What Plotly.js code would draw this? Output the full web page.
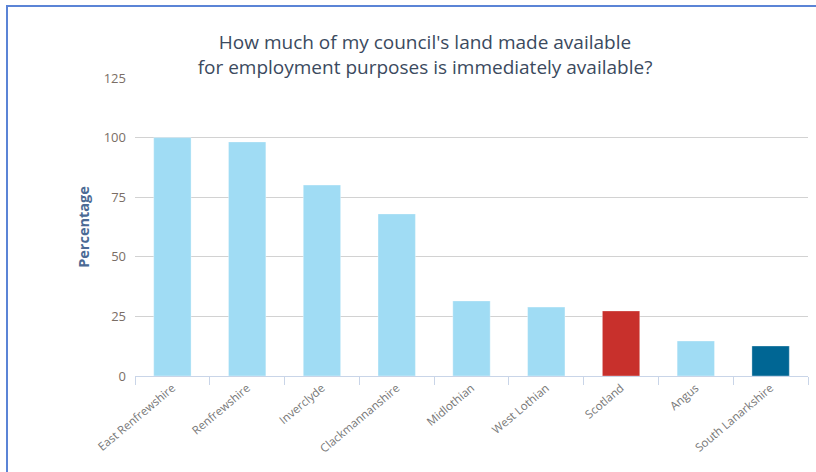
<!DOCTYPE html>
<html>
<head>
<meta charset="utf-8">
<script src="https://cdn.plot.ly/plotly-3.0.1.min.js"></script>
<style>
html,body{margin:0;padding:0;background:#fff;width:816px;height:472px;overflow:hidden;}
#chart{position:absolute;left:0;top:0;width:816px;height:472px;}
#frame{position:absolute;left:6px;top:5px;width:830px;height:480px;border-left:2px solid #5b84d6;border-top:2px solid #5b84d6;pointer-events:none;}
</style>
</head>
<body>
<div id="chart"></div>
<div id="frame"></div>
<script>
const councils = ["East Renfrewshire","Renfrewshire","Inverclyde","Clackmannanshire","Midlothian","West Lothian","Scotland","Angus","South Lanarkshire"];
const percentages = [100, 98.2, 80.1, 68, 31.5, 28.9, 27.3, 14.7, 12.6];
const barColors = ["#a0dcf4","#a0dcf4","#a0dcf4","#a0dcf4","#a0dcf4","#a0dcf4","#c8302c","#a0dcf4","#006694"];
const yTicks = [0, 25, 50, 75, 100, 125];

const font = "'Open Sans', 'Noto Sans', sans-serif";

Plotly.newPlot('chart', [{
  type: 'bar',
  x: councils,
  y: percentages,
  marker: {color: barColors, line: {color: 'rgba(255,255,255,0.35)', width: 1}},
  hoverinfo: 'x+y'
}], {
  width: 816, height: 472,
  margin: {l: 135, r: 8, t: 78, b: 96, pad: 0},
  paper_bgcolor: '#fff', plot_bgcolor: '#fff',
  bargap: 0.5,
  showlegend: false,
  title: {
    text: "How much of my council's land made available<br>for employment purposes is immediately available?",
    font: {family: font, size: 19, color: '#3b4a5e'},
    x: 425/816, xanchor: 'center', xref: 'container',
    y: 1 - 49/472, yanchor: 'top', yref: 'container'
  },
  xaxis: {
    type: 'category',
    tickangle: -40,
    tickfont: {family: font, size: 11.5, color: '#777777'},
    showline: true, linecolor: '#c9d5e8', linewidth: 1,
    ticks: 'outside', tickson: 'boundaries', ticklen: 8, tickcolor: '#c9d5e8',
    showgrid: false
  },
  yaxis: {
    range: [0, 125],
    tickvals: yTicks,
    tickfont: {family: font, size: 13, color: '#7a6e66'},
    showgrid: true, gridcolor: '#d2d2d2', gridwidth: 1,
    zeroline: false, showline: false,
    ticks: '', ticklabelstandoff: 8,
    title: {text: 'Percentage', font: {family: font, size: 14.5, color: '#4b6a95', weight: 'bold'}, standoff: 10}
  }
}, {displayModeBar: false, staticPlot: true});
</script>
</body>
</html>
